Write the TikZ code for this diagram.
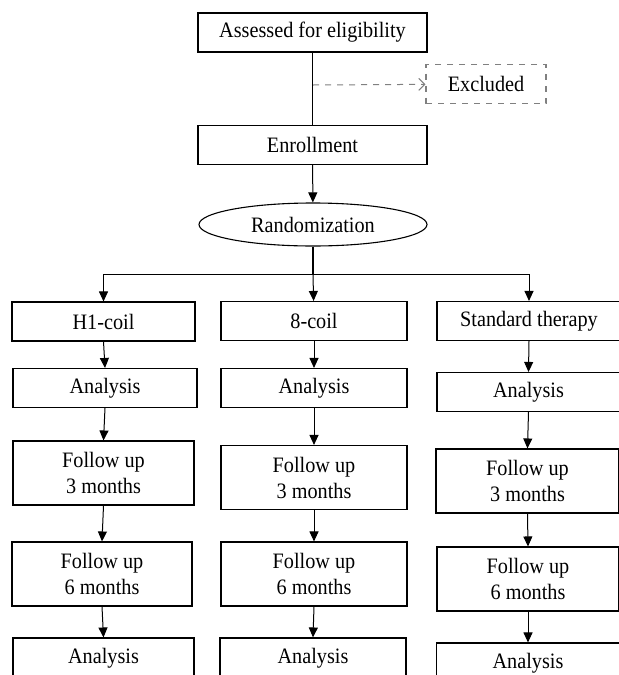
\documentclass[tikz,border=0pt]{standalone}
\usepackage{fontspec}
\setmainfont{Liberation Serif}[FakeStretch=0.92]
\usetikzlibrary{arrows.meta,shapes.geometric}

\begin{document}
\begin{tikzpicture}[x=0.5pt,y=-0.5pt]
    \tikzstyle{stage}=[rectangle,draw=black,line width=0.55pt,inner sep=0pt,align=center,font=\fontsize{11}{13}\selectfont,minimum height=19.5pt]
    \tikzstyle{twoline}=[stage,minimum height=32pt]
    \tikzstyle{link}=[draw,line width=0.5pt,-{Triangle[length=5pt,width=4.5pt]}]
    \tikzstyle{skip}=[draw,gray,dashed,line width=0.5pt,-{Straight Barb[length=3pt,width=6pt]}]
    \useasboundingbox (0,0) rectangle (619,675);
    \begin{scope}
        % top part
        \node [stage,minimum width=114.5pt] (assess) at (312.5,32.5) {Assessed for eligibility};
        \node [stage,minimum width=60pt,draw=gray,dashed] (excl) at (486,84) {Excluded};
        \node [stage,minimum width=114.5pt] (enrol) at (312.5,145) {Enrollment};
        \node [ellipse,draw=black,line width=0.55pt,inner sep=0pt,minimum width=114pt,minimum height=21.5pt,font=\fontsize{11}{13}\selectfont] (rand) at (313,224.5) {Randomization};
        \coordinate (drop) at (313,85);
        \coordinate (split) at (313,274);
        \draw [line width=0.5pt] (assess) -- (enrol);
        \path [skip] (drop) -- (excl);
        \path [link] (enrol) edge (rand);
        \draw [line width=1pt] (rand) -- (split);
        % H1-coil
        \node [stage,minimum width=91.5pt] (a1) at (103.5,321.5) {H1-coil};
        \node [stage,minimum width=92pt] (a2) at (105,388) {Analysis};
        \node [twoline,minimum width=90.5pt] (a3) at (103.5,473) {Follow up\\3 months};
        \node [twoline,minimum width=90pt] (a4) at (102,574) {Follow up\\6 months};
        \node [stage,minimum width=90.5pt,minimum height=20pt] (a5) at (103.5,658) {Analysis};
        % 8-coil
        \node [stage,minimum width=93pt] (b1) at (314,321) {8-coil};
        \node [stage,minimum width=93pt] (b2) at (314,388) {Analysis};
        \node [twoline,minimum width=93pt] (b3) at (314,477.5) {Follow up\\3 months};
        \node [twoline,minimum width=93pt] (b4) at (314,574) {Follow up\\6 months};
        \node [stage,minimum width=93pt,minimum height=20pt] (b5) at (313,658) {Analysis};
        % standard therapy
        \node [stage,minimum width=92pt] (c1) at (529,321) {Standard therapy};
        \node [stage,minimum width=91.5pt] (c2) at (528.5,392) {Analysis};
        \node [twoline,minimum width=91.5pt] (c3) at (527.5,481) {Follow up\\3 months};
        \node [twoline,minimum width=91pt] (c4) at (528,579) {Follow up\\6 months};
        \node [stage,minimum width=91.5pt,minimum height=20pt] (c5) at (528,663) {Analysis};
        \path [link] (split) -| (a1);
        \path [link] (split) -- (b1);
        \path [link] (split) -| (c1);
        \path [link] (a1.south) -- (a2.north);
        \path [link] (a2.south) -- (a3.north);
        \path [link] (a3.south) -- (a4.north);
        \path [link] (a4.south) -- (a5.north);
        \path [link] (b1.south) -- (b2.north);
        \path [link] (b2.south) -- (b3.north);
        \path [link] (b3.south) -- (b4.north);
        \path [link] (b4.south) -- (b5.north);
        \path [link] (c1.south) -- (c2.north);
        \path [link] (c2.south) -- (c3.north);
        \path [link] (c3.south) -- (c4.north);
        \path [link] (c4.south) -- (c5.north);
    \end{scope}
\end{tikzpicture}
\end{document}
